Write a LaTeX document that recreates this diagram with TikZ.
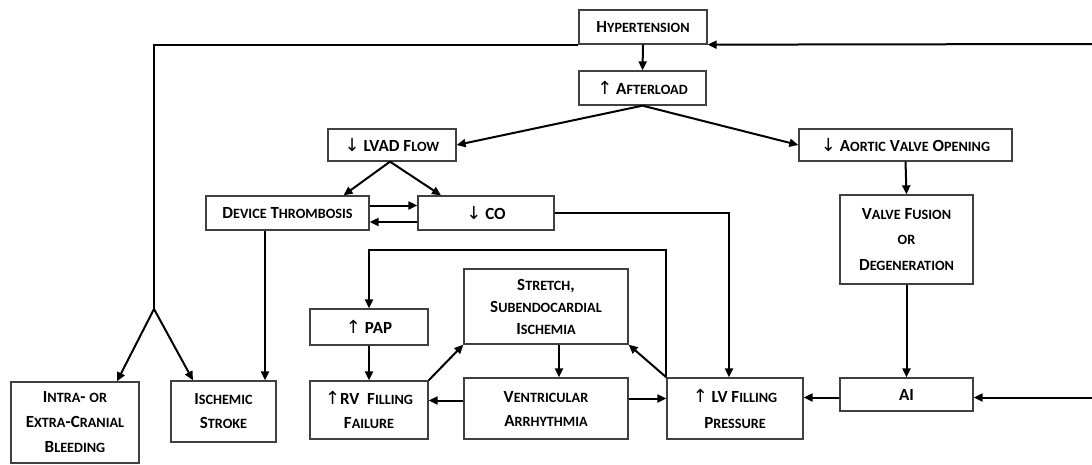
\documentclass[tikz,border=0pt]{standalone}
\usepackage{fontspec}
\setmainfont{Carlito}
\newfontfamily\arrfont{DejaVu Sans}
\usetikzlibrary{arrows.meta,calc}
\newcommand\SM[1]{{\fontsize{14.2}{24}\selectfont #1}}
\newcommand\UPA{{\arrfont\fontsize{18}{24}\selectfont\mdseries ↑}}
\newcommand\DNA{{\arrfont\fontsize{18}{24}\selectfont\mdseries ↓}}
\begin{document}
\begin{tikzpicture}[x=1pt,y=-1pt,
  box/.style={draw=black!75, line width=1.3pt, inner sep=0pt, align=center,
    font=\bfseries\fontsize{17}{24}\selectfont},
  conn/.style={line width=2pt, draw=black},
  arr/.style={conn, -{Triangle[length=9pt,width=8pt]}}]
\useasboundingbox (0,0) rectangle (1092,464);
\fill[white] (0,0) rectangle (1092,464);

\node[box, minimum width=128, minimum height=34] (hyp) at (643,27) {H\SM{YPERTENSION}};
\node[box, minimum width=127, minimum height=34] (aft) at (642.5,88) {\UPA\ A\SM{FTERLOAD}};
\node[box, minimum width=128, minimum height=32] (lvad) at (392,145) {\DNA\ LVAD F\SM{LOW}};
\node[box, minimum width=213, minimum height=32] (avo) at (905.5,145) {\DNA\ A\SM{ORTIC} V\SM{ALVE} O\SM{PENING}};
\node[box, minimum width=163, minimum height=34] (dt) at (287.5,213) {D\SM{EVICE} T\SM{HROMBOSIS}};
\node[box, minimum width=136, minimum height=34] (co) at (486,213) {\DNA\ CO};
\node[box, minimum width=133, minimum height=89, font=\bfseries\fontsize{17}{25.5}\selectfont] (vf) at (906.5,239.5) {V\SM{ALVE} F\SM{USION}\\ \SM{OR}\\ D\SM{EGENERATION}};
\node[box, minimum width=133, minimum height=33] (ai) at (906.5,394.5) {AI};
\node[box, minimum width=136, minimum height=61, font=\bfseries\fontsize{17}{26}\selectfont] (lv) at (735,408.5) {\UPA\ LV F\SM{ILLING}\\ P\SM{RESSURE}};
\node[box, minimum width=164, minimum height=61] (va) at (546,408.5) {V\SM{ENTRICULAR}\\ A\SM{RRHYTHMIA}};
\node[box, minimum width=118, minimum height=58] (rv) at (369,410) {\UPA RV\ \ F\SM{ILLING}\\ F\SM{AILURE}};
\node[box, minimum width=118, minimum height=36] (pap) at (369,327) {\UPA\ PAP};
\node[box, minimum width=164, minimum height=75, font=\bfseries\fontsize{17}{22}\selectfont] (st) at (546,306.5) {S\SM{TRETCH},\\ S\SM{UBENDOCARDIAL}\\ I\SM{SCHEMIA}};
\node[box, minimum width=105, minimum height=61] (is) at (223.5,411.5) {I\SM{SCHEMIC}\\ S\SM{TROKE}};
\node[box, minimum width=128, minimum height=81, font=\bfseries\fontsize{17}{25}\selectfont] (ib) at (75,422.5) {I\SM{NTRA}- \SM{OR}\\ E\SM{XTRA}-C\SM{RANIAL}\\ B\SM{LEEDING}};

% free ends
\coordinate (split) at (154,309);
\coordinate (rin) at (1092,44);
\coordinate (rin2) at (1092,397.5);

% hypertension branches
\draw[conn] (hyp.south west) -| (split);
\draw[arr] (split) -- ([xshift=42]ib.north);
\draw[arr] (split) -- ([xshift=-30.5]is.north);
\draw[arr] (rin) -- (hyp.south east);
\draw[arr] (hyp.south) -- (aft.north);
\draw[arr] (aft.south) -- (lvad.east);
\draw[arr] (aft.south) -- (avo.west);
\draw[arr] ([xshift=-2]lvad.south) -- ([xshift=56]dt.north);
\draw[arr] ([xshift=-2]lvad.south) -- ([xshift=-45]co.north);
\draw[arr] ([yshift=7.5]dt.east) -- ([yshift=7.5]co.west);
\draw[arr] ([yshift=-9]co.west) -- ([yshift=-9]dt.east);
\draw[arr] (co.east) -| ([xshift=-6]lv.north);
\draw[arr] ([xshift=-22.5]dt.south) -- ([xshift=-22.5]dt.south |- is.north);
\draw[arr] (avo.south) -- (vf.north);
\draw[arr] (vf.south) -- (ai.north);
\draw[arr] (rin2) -- (ai.east |- rin2);
\draw[arr] (ai.west |- rin2) -- (lv.east |- rin2);
\draw[arr] ([yshift=10]va.east) -- ([yshift=10]lv.west);
\draw[arr] ([yshift=8]va.west) -- ([yshift=8]va.west -| rv.east);
\draw[arr] (lv.north west) -- ++(0,-127) -| (pap.north);
\draw[arr] (lv.north west) -- (st.south east);
\draw[arr] (rv.north east) -- (st.south west);
\draw[arr] (pap.south) -- (rv.north);
\draw[arr] ([xshift=13]st.south) -- ([xshift=13]va.north);
\end{tikzpicture}
\end{document}
